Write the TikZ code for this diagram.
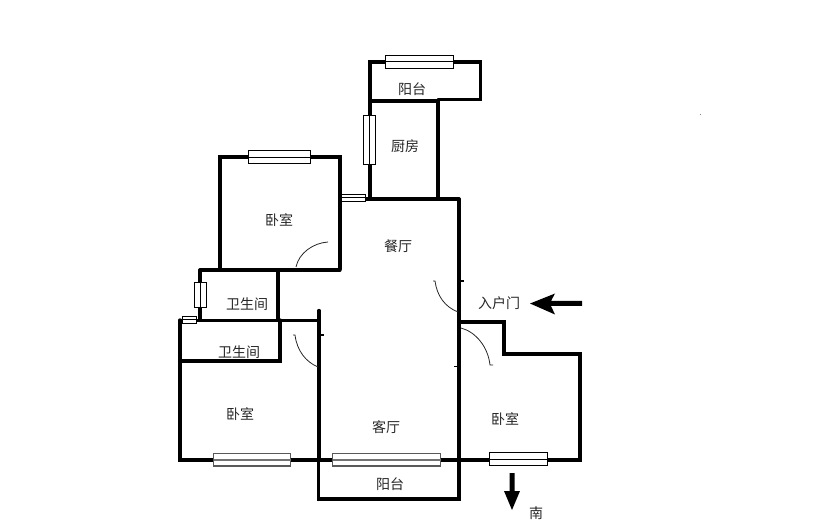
\documentclass[tikz,border=0pt]{standalone}
\usepackage{fontspec}
\setmainfont{Noto Sans CJK SC}
\tikzset{
  wall/.style={line width=3.3pt,line cap=round,line join=miter,black},
  thinwall/.style={line width=1.8pt,black},
  win/.style={draw=black,fill=white,line width=0.9pt},
  greywin/.style={draw=black!65,fill=white,line width=1.2pt},
  greymid/.style={draw=black!55,line width=2.2pt},
  swing/.style={line width=0.8pt,black!85},
  room/.style={font=\fontsize{14}{14}\selectfont,inner sep=0pt,text=black!85},
}
\newcommand{\winh}[4]{%
  \draw[win] (#1,#3) rectangle (#2,#4);
  \draw[win] (#1,{(#3+#4)/2}) -- (#2,{(#3+#4)/2});}
\newcommand{\winv}[4]{%
  \draw[win] (#1,#3) rectangle (#2,#4);
  \draw[win] ({(#1+#2)/2},#3) -- ({(#1+#2)/2},#4);}
\newcommand{\wingrey}[4]{%
  \draw[greywin] (#1,#3) rectangle (#2,#4);
  \draw[greymid] (#1,{(#3+#4)/2}) -- (#2,{(#3+#4)/2});}
\begin{document}
\begin{tikzpicture}[x=1pt,y=-1pt]
\useasboundingbox (0,0) rectangle (814,521);
% walls
\draw[wall] (370,199) -- (370,62) -- (480.5,62) -- (480.5,99.5) -- (438,99.5);
\draw[wall] (370,101) -- (438,101) -- (438,199);
\draw[wall] (341,199) -- (459,199);
\draw[wall] (459,199) -- (459,499) -- (318.5,499) -- (318.5,460);
\draw[wall] (220,270) -- (220,157) -- (340,157) -- (340,269);
\draw[wall] (200,270) -- (340,270);
\draw[thinwall] (272,268.5) -- (328,268.5);
\draw[wall] (278,270) -- (278,320);
\draw[wall] (200,270) -- (200,320);
\draw[wall] (180,320.5) -- (319,320.5);
\draw[wall] (280,320) -- (280,361) -- (180,361);
\draw[wall] (180,320) -- (180,460) -- (580,460) -- (580,354) -- (504,354) -- (504,322) -- (459,322);
\draw[wall] (319,310.5) -- (319,460);
% ticks
\draw[thinwall] (319,335) -- (324,335);
\draw[thinwall] (459,281) -- (464,281);
\draw[thinwall] (454,366.5) -- (459,366.5);
% windows
\winh{385}{453.5}{55.5}{68}
\winv{363.5}{375.5}{115.5}{164.5}
\winh{341}{365}{194.5}{201}
\winh{248.5}{310.5}{150.5}{163.5}
\winv{194.5}{206.5}{282.5}{307}
\winh{182.5}{196.5}{316.5}{323}
\wingrey{213.5}{290.5}{453.5}{466}
\wingrey{332.5}{440.5}{453.5}{466}
\winh{489.5}{547.5}{452.5}{465.5}
% door swings
\draw[swing] (296,267) .. controls (299,253) and (313,243) .. (328,242);
\draw[swing] (293,335) -- (295,335) .. controls (297,351) and (306,362) .. (318,367);
\draw[swing] (433,281) -- (435,281) .. controls (437,296) and (445,307) .. (458,312);
\draw[swing] (461,328) .. controls (476,332) and (488,347) .. (490,365) -- (493,365);
% direction arrows
\fill (582,301) -- (551,301) -- (555,293.5) -- (530,303.5) -- (555,314.5) -- (551,306) -- (582,306) -- cycle;
\fill (509.5,473) -- (514.5,473) -- (514.5,491) -- (520,491) -- (512,510) -- (504,491) -- (509.5,491) -- cycle;
\fill[black!50] (700,114.5) rectangle (701,115.5);
% labels
\node[room] (balconyN) at (412,89) {阳台};
\node[room] (kitchen) at (405,146) {厨房};
\node[room] (bedNW) at (279,220) {卧室};
\node[room] (dining) at (398,246) {餐厅};
\node[room] (bathA) at (247,304) {卫生间};
\node[room] (bathB) at (239,352) {卫生间};
\node[room] (entry) at (499,303) {入户门};
\node[room] (bedSW) at (240,414) {卧室};
\node[room] (living) at (386,427) {客厅};
\node[room] (bedSE) at (505,419) {卧室};
\node[room] (balconyS) at (390,484) {阳台};
\node[room] (south) at (536,513) {南};
\end{tikzpicture}
\end{document}
